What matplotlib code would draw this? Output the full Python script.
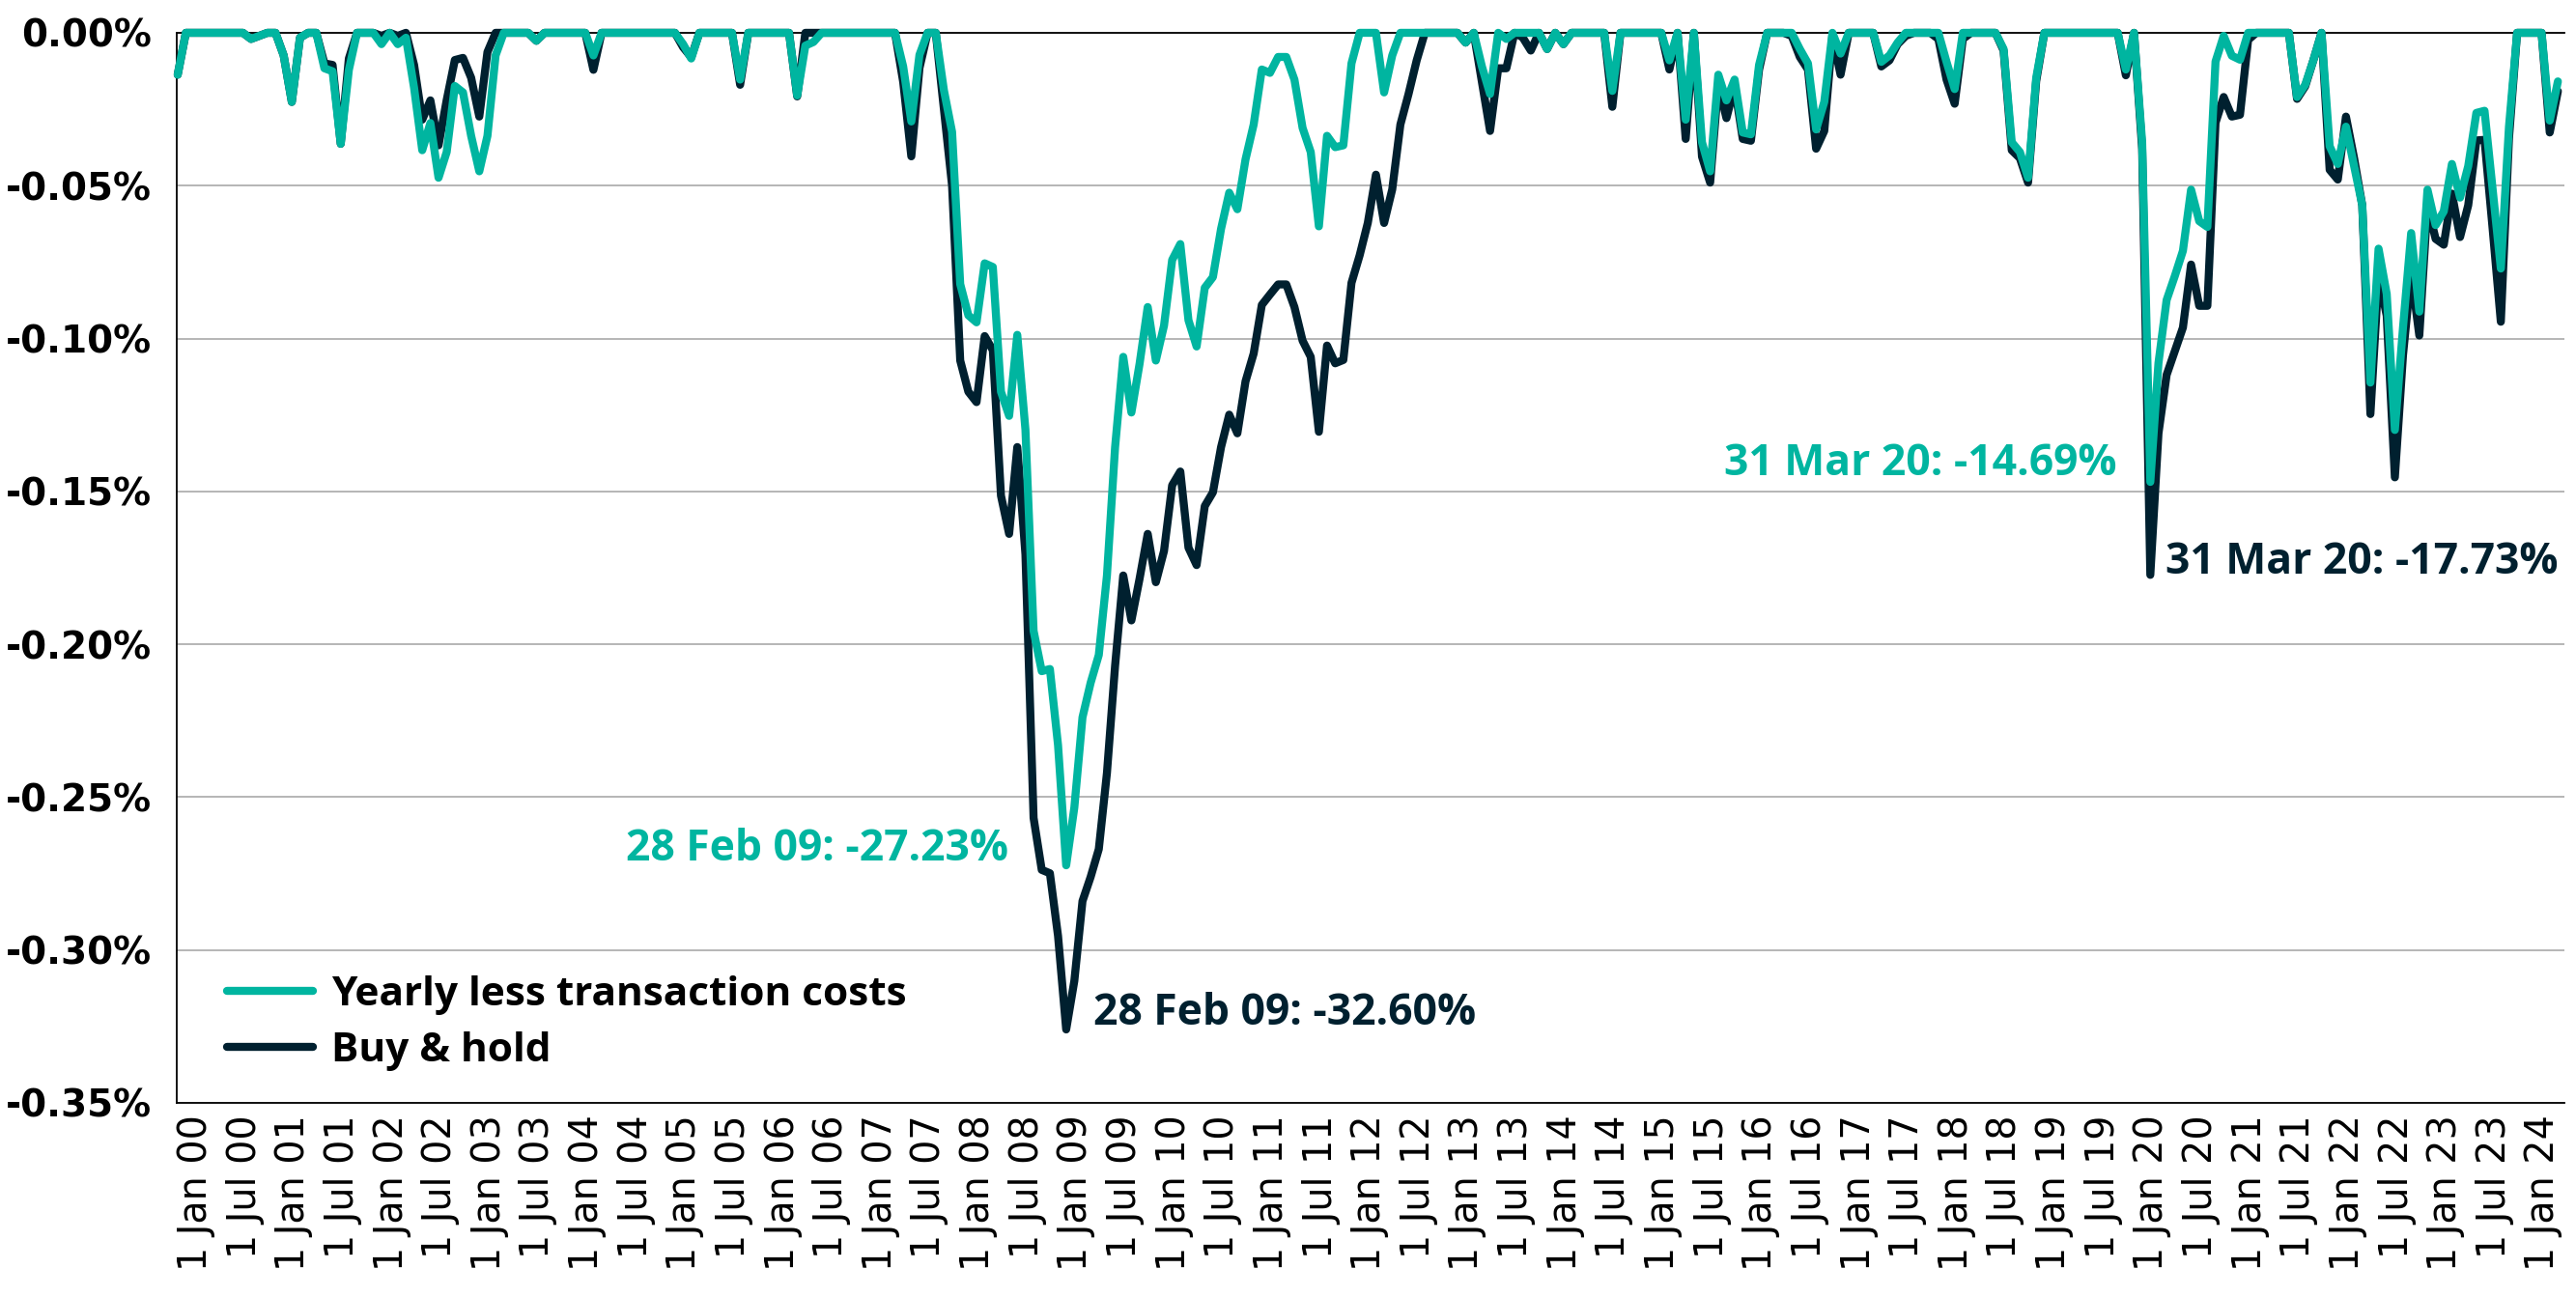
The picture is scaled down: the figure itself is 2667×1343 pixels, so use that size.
import calendar
import numpy as np
import matplotlib
matplotlib.use('Agg')
from matplotlib import pyplot as plt

# Drawdown at each month end, Jan 2000 .. May 2024, one row per year
yearly_rows = [
    [-0.0137, 0, 0, 0, 0, 0, 0, 0, 0, -0.002, -0.001, 0],                                   # 2000
    [0, -0.0074, -0.0226, -0.0016, 0, 0, -0.0116, -0.0126, -0.0363, -0.0121, 0, 0],         # 2001
    [0, -0.0037, 0, -0.0037, -0.0016, -0.018, -0.0384, -0.0295, -0.0474, -0.039, -0.0174, -0.0195],
    [-0.0337, -0.0453, -0.0337, -0.0074, 0, 0, 0, 0, -0.0026, 0, 0, 0],
    [0, 0, 0, -0.0074, 0, 0, 0, 0, 0, 0, 0, 0],
    [0, 0, -0.0037, -0.0084, 0, 0, 0, 0, 0, -0.0153, 0, 0],                                 # 2005
    [0, 0, 0, 0, -0.0205, -0.0042, -0.003, 0, 0, 0, 0, 0],
    [0, 0, 0, 0, 0, -0.011, -0.029, -0.0072, 0, 0, -0.0188, -0.0324],
    [-0.0822, -0.0924, -0.0947, -0.0754, -0.0766, -0.1174, -0.1253, -0.0988, -0.1298, -0.1956, -0.2088, -0.2081],
    [-0.233, -0.2723, -0.2534, -0.2239, -0.2126, -0.2035, -0.1775, -0.1355, -0.106, -0.1242, -0.1083, -0.0897],
    [-0.1072, -0.0958, -0.0743, -0.0691, -0.094, -0.1026, -0.0834, -0.0799, -0.0641, -0.0523, -0.0577, -0.0414],  # 2010
    [-0.030, -0.012, -0.0131, -0.0079, -0.0079, -0.0153, -0.0311, -0.039, -0.0633, -0.0337, -0.0374, -0.0368],
    [-0.010, 0, 0, 0, -0.0195, -0.0074, 0, 0, 0, 0, 0, 0],
    [0, 0, -0.0032, 0, -0.011, -0.020, 0, -0.002, 0, 0, 0, 0],
    [-0.0053, 0, -0.0037, 0, 0, 0, 0, 0, -0.019, 0, 0, 0],
    [0, 0, 0, -0.009, 0, -0.0284, 0, -0.0358, -0.0453, -0.0137, -0.0221, -0.0153],           # 2015
    [-0.0326, -0.0332, -0.0105, 0, 0, 0, 0, -0.0053, -0.010, -0.0316, -0.0226, 0],
    [-0.0068, 0, 0, 0, 0, -0.0095, -0.0074, -0.0032, 0, 0, 0, 0],
    [0, -0.0095, -0.0184, 0, 0, 0, 0, 0, -0.0053, -0.0358, -0.039, -0.0474],
    [-0.0147, 0, 0, 0, 0, 0, 0, 0, 0, 0, 0, -0.012],
    [0, -0.0358, -0.1469, -0.108, -0.0874, -0.0796, -0.0713, -0.0513, -0.0616, -0.0635, -0.0094, -0.001],  # 2020
    [-0.0075, -0.0088, 0, 0, 0, 0, 0, 0, -0.021, -0.017, -0.009, 0],
    [-0.0371, -0.0429, -0.0307, -0.0436, -0.0564, -0.1144, -0.0706, -0.0854, -0.1299, -0.0964, -0.0655, -0.0912],
    [-0.0513, -0.0629, -0.0584, -0.0429, -0.0539, -0.0436, -0.0262, -0.0255, -0.0513, -0.0771, -0.0307, 0],
    [0, 0, 0, -0.0287, -0.0159],                                                             # 2024
]

buyhold_rows = [
    [-0.0137, 0, 0, 0, 0, 0, 0, 0, 0, -0.002, -0.001, 0],
    [0, -0.0074, -0.0226, -0.0016, 0, 0, -0.010, -0.0105, -0.0363, -0.0084, 0, 0],
    [0, -0.001, 0, -0.001, 0, -0.0105, -0.0284, -0.0221, -0.0368, -0.022, -0.0089, -0.0082],
    [-0.0147, -0.0274, -0.0063, 0, 0, 0, 0, 0, -0.0026, 0, 0, 0],
    [0, 0, 0, -0.0121, 0, 0, 0, 0, 0, 0, 0, 0],
    [0, 0, -0.0047, -0.008, 0, 0, 0, 0, 0, -0.017, 0, 0],
    [0, 0, 0, 0, -0.0208, 0, 0, 0, 0, 0, 0, 0],
    [0, 0, 0, 0, 0, -0.016, -0.0404, -0.0115, 0, 0, -0.025, -0.050],
    [-0.1072, -0.1174, -0.1208, -0.0992, -0.1038, -0.1514, -0.1639, -0.1355, -0.1706, -0.2568, -0.2738, -0.2749],
    [-0.2954, -0.3260, -0.3101, -0.284, -0.2761, -0.267, -0.2421, -0.207, -0.1775, -0.1922, -0.1786, -0.1639],
    [-0.1797, -0.1695, -0.148, -0.1435, -0.1684, -0.1741, -0.1548, -0.1503, -0.1355, -0.1249, -0.131, -0.114],
    [-0.1049, -0.089, -0.0856, -0.0823, -0.0823, -0.0897, -0.1007, -0.106, -0.1305, -0.1023, -0.1081, -0.107],
    [-0.0818, -0.0728, -0.0622, -0.0464, -0.0622, -0.0512, -0.030, -0.020, -0.009, 0, 0, 0],
    [0, 0, -0.0032, 0, -0.016, -0.0321, -0.0116, -0.0116, 0, -0.0015, -0.0058, 0],
    [-0.0053, 0, -0.0037, 0, 0, 0, 0, 0, -0.0242, 0, 0, 0],
    [0, 0, 0, -0.012, 0, -0.0347, 0, -0.0405, -0.049, -0.0168, -0.0279, -0.0174],
    [-0.0347, -0.0353, -0.0121, 0, 0, 0, -0.001, -0.0079, -0.012, -0.0379, -0.0321, -0.001],
    [-0.0137, 0, 0, 0, 0, -0.011, -0.009, -0.0037, -0.001, 0, 0, 0],
    [-0.002, -0.0153, -0.0232, -0.002, 0, 0, 0, 0, -0.0058, -0.0384, -0.041, -0.049],
    [-0.0158, 0, 0, 0, 0, 0, 0, 0, 0, 0, 0, -0.0139],
    [0, -0.038, -0.1773, -0.131, -0.1119, -0.1041, -0.0964, -0.0758, -0.0893, -0.0893, -0.0294, -0.021],
    [-0.0274, -0.0268, -0.0023, 0, 0, 0, 0, 0, -0.0216, -0.0175, -0.009, 0],
    [-0.0448, -0.048, -0.0274, -0.041, -0.0564, -0.1247, -0.0796, -0.0925, -0.1454, -0.1054, -0.0784, -0.099],
    [-0.0564, -0.0674, -0.0693, -0.0526, -0.0668, -0.0564, -0.0352, -0.035, -0.0642, -0.0945, -0.0345, 0],
    [0, 0, 0, -0.0326, -0.0191],
]

series_names = ['Yearly less transaction costs', 'Buy & hold']
start_year = 2000
y_ticks = [0.0, -0.05, -0.10, -0.15, -0.20, -0.25, -0.30, -0.35]

teal = '#00b5a0'
navy = '#00202f'

yearly = np.concatenate([np.array(r, dtype=float) for r in yearly_rows])
buyhold = np.concatenate([np.array(r, dtype=float) for r in buyhold_rows])
months = np.arange(len(yearly))  # 0 = end of Jan 2000


def month_label(i):
    y = start_year + i // 12
    m = i % 12 + 1
    day = calendar.monthrange(y, m)[1]
    return '%d %s %02d' % (day, calendar.month_abbr[m], y % 100)


fig = plt.figure(figsize=(26.67, 13.43), dpi=100)
ax = fig.add_axes([0.0686, 0.1497, 0.9269, 0.8250])

ln_bh, = ax.plot(months, buyhold, color=navy, lw=6, solid_joinstyle='round',
                 solid_capstyle='round', clip_on=False, zorder=3)
ln_yl, = ax.plot(months, yearly, color=teal, lw=6, solid_joinstyle='round',
                 solid_capstyle='round', clip_on=False, zorder=4)

ax.set_ylim(-0.35, 0)
ax.set_xlim(-0.12, 292.8)

ax.set_yticks(y_ticks)
ax.set_yticklabels(['%s%.2f%%' % ('-' if t < 0 else '', abs(t)) for t in y_ticks],
                   fontsize=28, fontweight='bold', family='DejaVu Sans')
ax.yaxis.grid(True, color='#b0b0b0', lw=1.3)
ax.set_axisbelow(True)

# half-year labels, shifted a little to the right like the original
tick_pos = np.arange(0, 289, 6) + 2.25
tick_lab = []
for k in range(len(tick_pos)):
    yy = (start_year + k // 2) % 100
    tick_lab.append('1 %s %02d' % ('Jan' if k % 2 == 0 else 'Jul', yy))
ax.set_xticks(tick_pos)
ax.set_xticklabels(tick_lab, rotation=90, fontsize=28.5, family='DejaVu Sans')
ax.tick_params(axis='both', length=0)
ax.tick_params(axis='y', pad=19)
ax.tick_params(axis='x', pad=9)

for s in ['left', 'bottom', 'top']:
    ax.spines[s].set_color('black')
    ax.spines[s].set_linewidth(1.3)
ax.spines['right'].set_visible(False)

# minimum markers
ann_font = dict(fontsize=32, fontweight='bold', family=['Open Sans', 'DejaVu Sans'])
split = 15 * 12
for data, col, side in [(yearly, teal, 'left'), (buyhold, navy, 'right')]:
    i_gfc = int(np.argmin(data[:split]))
    i_cov = split + int(np.argmin(data[split:]))
    if side == 'left':
        offs = [(-60, 16), (-35, 19)]
        ha = 'right'
    else:
        offs = [(28, 16), (16, 13)]
        ha = 'left'
    for idx, off in zip([i_gfc, i_cov], offs):
        ax.annotate('%s: %.2f%%' % (month_label(idx), data[idx] * 100),
                    xy=(months[idx], data[idx]), xytext=off, textcoords='offset pixels',
                    ha=ha, va='center', color=col, **ann_font)

leg = ax.legend([ln_yl, ln_bh], series_names, loc='upper left',
                bbox_to_anchor=(235 / 2667, 1 - 1010 / 1343), bbox_transform=fig.transFigure,
                frameon=False, borderpad=0, borderaxespad=0, handlelength=2.1,
                handletextpad=0.45, labelspacing=0.4,
                prop=dict(size=30.5, weight='bold', family=['Open Sans', 'DejaVu Sans']))

fig.savefig('out.png', dpi=100)
